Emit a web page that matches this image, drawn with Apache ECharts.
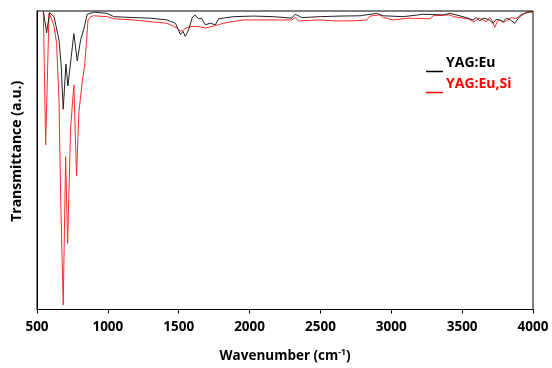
<!DOCTYPE html>
<html>
<head>
<meta charset="utf-8">
<script src="https://cdn.jsdelivr.net/npm/echarts@6/dist/echarts.min.js"></script>
<style>html,body{margin:0;padding:0;background:#fff;}#c{width:552px;height:368px;}</style>
</head>
<body>
<div id="c"></div>
<script>
var xTicks = [500, 1000, 1500, 2000, 2500, 3000, 3500, 4000];
var seriesNames = ['YAG:Eu', 'YAG:Eu,Si'];

var euWave = [545, 568, 589, 620, 655, 671, 685, 704, 718, 742, 760, 784, 808, 831, 854, 901, 995, 1042, 1183, 1300, 1418, 1477, 1512, 1530, 1547, 1570, 1594, 1613, 1641, 1660, 1688, 1723, 1758, 1782, 1887, 2028, 2169, 2298, 2322, 2345, 2369, 2498, 2639, 2780, 2897, 2944, 3084, 3225, 3366, 3413, 3507, 3577, 3600, 3624, 3650, 3671, 3695, 3718, 3740, 3765, 3790, 3812, 3840, 3871, 3906, 3953, 4000];
var euT    = [99.8, 92.7, 99.4, 98.1, 90.4, 81.6, 67.1, 82.2, 74.9, 84.8, 92.4, 83.3, 90.4, 94.0, 98.9, 99.6, 99.2, 98.1, 97.8, 97.6, 97.0, 95.9, 92.1, 93.2, 91.5, 93.7, 97.6, 98.7, 97.4, 97.6, 95.4, 95.9, 95.4, 97.4, 98.1, 98.3, 98.1, 97.6, 98.9, 98.4, 97.8, 98.1, 98.3, 98.4, 99.2, 98.4, 98.1, 98.9, 98.7, 99.2, 98.1, 97.0, 97.8, 96.7, 97.6, 97.4, 96.9, 95.9, 97.2, 97.0, 96.4, 97.6, 97.0, 95.9, 98.1, 99.6, 99.8];

var siWave = [545, 561, 585, 600, 620, 638, 655, 667, 685, 702, 716, 737, 760, 779, 796, 819, 836, 848, 860, 878, 901, 995, 1042, 1183, 1324, 1418, 1488, 1512, 1535, 1559, 1594, 1641, 1688, 1758, 1817, 1887, 1958, 2122, 2298, 2322, 2345, 2498, 2592, 2733, 2826, 2850, 2920, 2944, 3014, 3119, 3130, 3272, 3296, 3413, 3440, 3542, 3570, 3589, 3620, 3648, 3670, 3695, 3712, 3730, 3750, 3765, 3790, 3812, 3847, 3880, 3918, 3977, 4000];
var siT    = [99.7, 55.2, 99.2, 97.7, 94.8, 89.4, 70.6, 37.6, 1.5, 51.2, 22.2, 60.7, 75.2, 44.8, 66.3, 76.2, 81.6, 88.8, 97.0, 98.1, 98.4, 98.1, 97.4, 97.0, 96.3, 95.9, 94.3, 93.2, 93.7, 94.5, 94.8, 94.8, 94.3, 95.1, 95.9, 96.5, 97.0, 97.0, 97.0, 97.8, 96.7, 97.0, 96.7, 96.7, 97.0, 98.3, 98.7, 97.8, 97.0, 97.6, 97.0, 97.4, 98.4, 98.7, 98.1, 97.4, 96.6, 96.5, 97.6, 97.0, 96.4, 97.8, 96.8, 94.5, 96.6, 97.0, 96.2, 96.7, 97.8, 97.4, 98.9, 99.6, 99.7];

function pairs(xs, ys) { var o = []; for (var i = 0; i < xs.length; i++) o.push([xs[i], ys[i]]); return o; }

var FONT = 'Open Sans';
var chart = echarts.init(document.getElementById('c'), null, {renderer: 'canvas'});
chart.setOption({
  animation: false,
  backgroundColor: '#fff',
  grid: {left: 37, right: 19, top: 11, bottom: 54, show: true, borderColor: '#000', borderWidth: 1, backgroundColor: 'transparent'},
  xAxis: {
    type: 'value', min: xTicks[0], max: xTicks[xTicks.length - 1], interval: 500,
    name: '{a|Wavenumber (cm}{s|-1}{a|)}', nameLocation: 'middle', nameGap: 39,
    nameTextStyle: {rich: {
      a: {fontFamily: FONT, fontWeight: 'bold', fontSize: 13.5, color: '#000'},
      s: {fontFamily: FONT, fontWeight: 'bold', fontSize: 8.5, color: '#000', verticalAlign: 'top', padding: [0, 0, 6, 0]}
    }},
    axisLine: {show: true, lineStyle: {color: '#000', width: 1}},
    axisTick: {show: true, inside: false, length: 4, lineStyle: {color: '#000'}},
    axisLabel: {fontFamily: FONT, fontWeight: 'bold', fontSize: 13.5, color: '#000', margin: 11,
      formatter: function (v) { return String(v); }},
    splitLine: {show: false}
  },
  yAxis: {
    type: 'value', min: 0, max: 100,
    name: 'Transmittance (a.u.)', nameLocation: 'middle', nameGap: 13,
    nameTextStyle: {fontFamily: FONT, fontWeight: 'bold', fontSize: 14, color: '#000', padding: [0, 0, 0, 18]},
    axisLine: {show: true, lineStyle: {color: '#000'}},
    axisTick: {show: false}, axisLabel: {show: false}, splitLine: {show: false}
  },
  series: [
    {name: seriesNames[1], type: 'line', data: pairs(siWave, siT), showSymbol: false, symbol: 'none',
     lineStyle: {color: '#ff2a2a', width: 1}, itemStyle: {color: '#ff2a2a'}, smooth: false, clip: true},
    {name: seriesNames[0], type: 'line', data: pairs(euWave, euT), showSymbol: false, symbol: 'none',
     lineStyle: {color: '#222', width: 1}, itemStyle: {color: '#222'}, smooth: false, clip: true}
  ],
  graphic: [
    {type: 'line', shape: {x1: 426, y1: 71.5, x2: 443, y2: 71.5}, style: {stroke: '#000', lineWidth: 1.5}},
    {type: 'text', left: 446, top: 56, style: {text: seriesNames[0], fill: '#000', font: 'bold 14px "Open Sans"'}},
    {type: 'line', shape: {x1: 426, y1: 92.5, x2: 443, y2: 92.5}, style: {stroke: '#ff0000', lineWidth: 1.5}},
    {type: 'text', left: 446, top: 77, style: {text: seriesNames[1], fill: '#ff0000', font: 'bold 14px "Open Sans"'}}
  ]
});
</script>
</body>
</html>
